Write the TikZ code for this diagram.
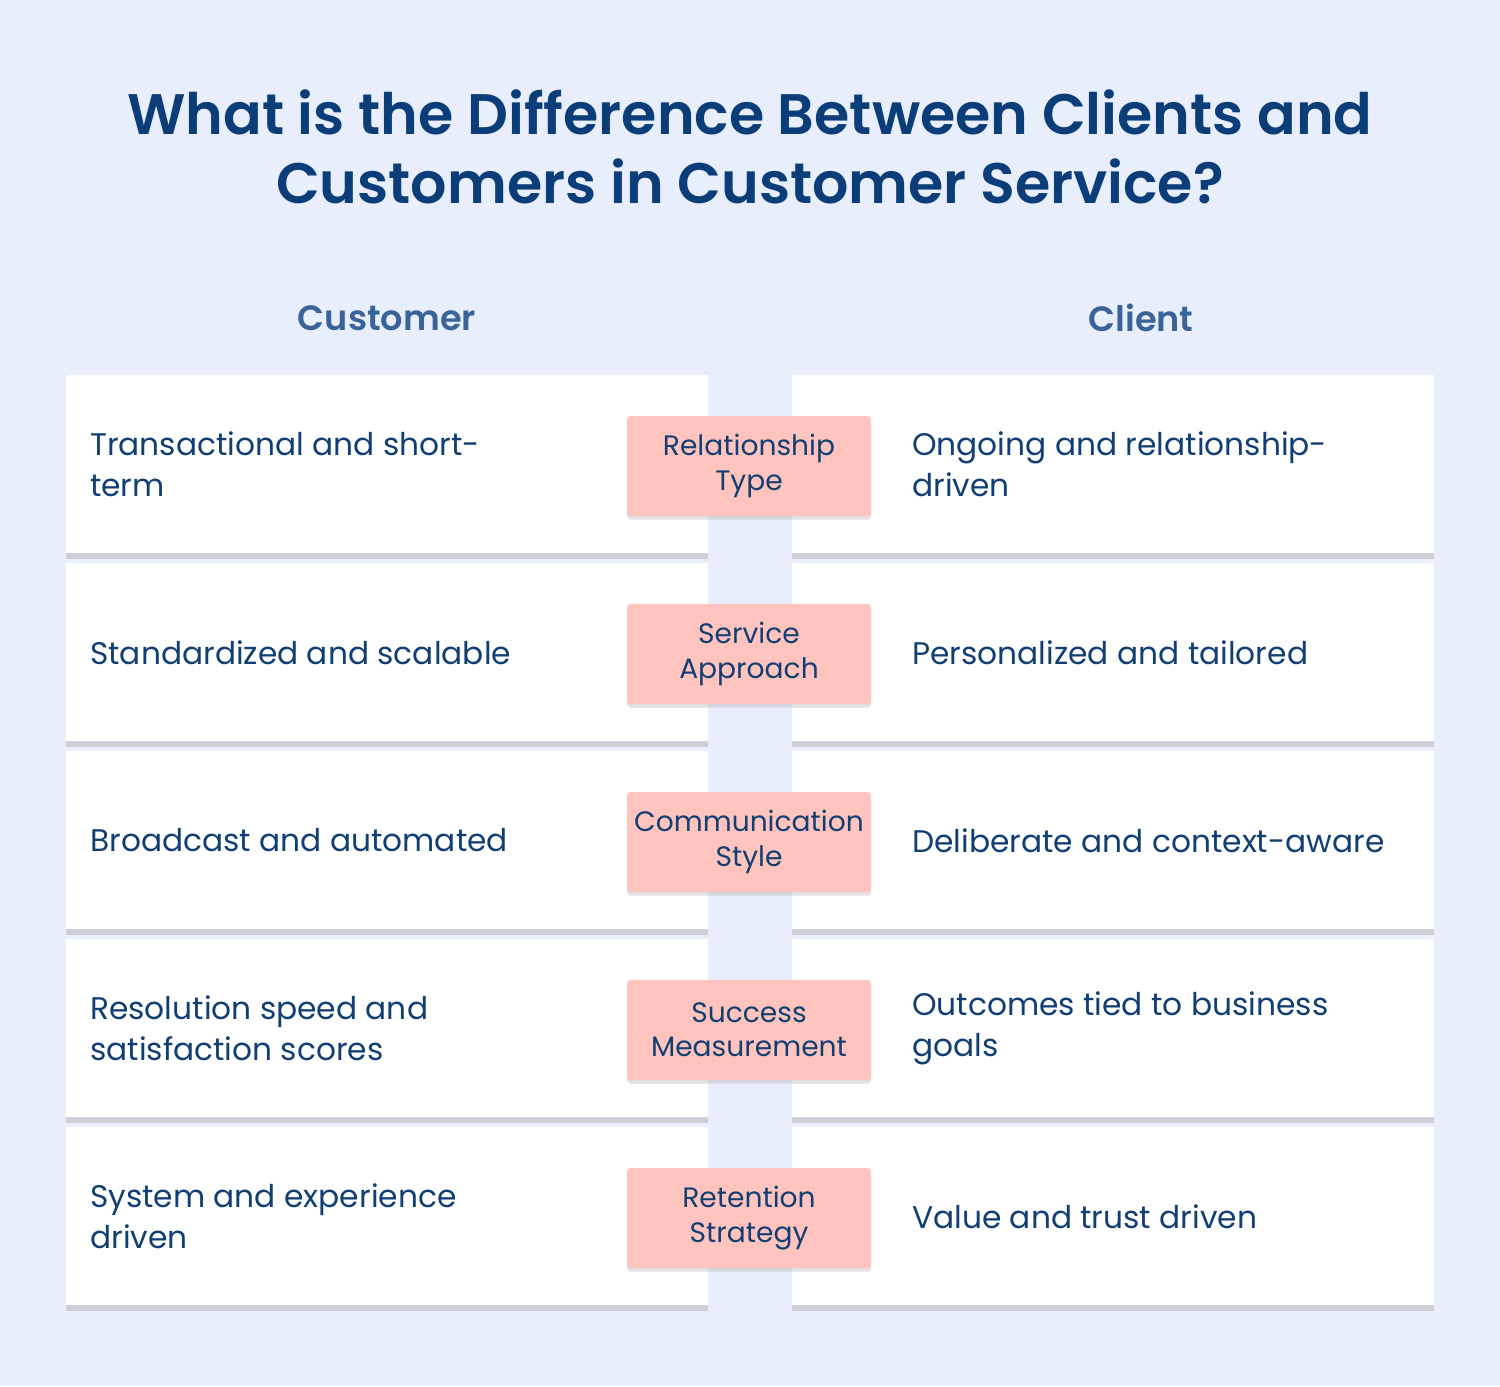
\documentclass[tikz,border=0pt]{standalone}
\usepackage{fontspec}
\setmainfont{Poppins}[BoldFont=Poppins SemiBold]
\usetikzlibrary{shadows}
\definecolor{bgblue}{HTML}{E8EEFB}
\definecolor{titleblue}{HTML}{0B3D78}
\definecolor{headblue}{HTML}{3A6399}
\definecolor{textblue}{HTML}{123F73}
\definecolor{tagpink}{HTML}{FEC4BD}
\tikzset{
  card/.style={fill=white, minimum width=642*0.02cm, minimum height=178*0.02cm,
    anchor=north west, inner sep=0pt,
    drop shadow={shadow xshift=0pt, shadow yshift=-3pt, fill=black!30, opacity=.5}},
  celltext/.style={anchor=west, align=left, text=textblue, font=\fontsize{17.8}{23}\selectfont},
  tag/.style={fill=tagpink, rounded corners=2pt, minimum width=244*0.02cm,
    minimum height=100*0.02cm, align=center, text=textblue, inner sep=0pt,
    font=\fontsize{16}{19.5}\selectfont,
    drop shadow={shadow xshift=0pt, shadow yshift=-2pt, fill=black!30, opacity=.4}},
  header/.style={text=headblue, font=\bfseries\fontsize{20}{24}\selectfont}
}
\begin{document}
\begin{tikzpicture}[x=0.02cm, y=-0.02cm]
  \fill[bgblue] (0,0) rectangle (1500,1386);
  \useasboundingbox (0,0) rectangle (1500,1386);
  % title
  \node[text=titleblue, align=center, font=\bfseries\fontsize{32.5}{39}\selectfont] (title) at (750,147)
    {What is the Difference Between Clients and\\Customers in Customer Service?};
  \node[header] (hcustomer) at (387,318) {Customer};
  \node[header] (hclient) at (1141,318) {Client};
  % rows
  \foreach \i/\lefttext/\tagtext/\righttext in {
    0/{Transactional and short-\\term}/{Relationship\\Type}/{Ongoing and relationship-\\driven},
    1/{Standardized and scalable}/{Service\\Approach}/{Personalized and tailored},
    2/{Broadcast and automated}/{Communication\\Style}/{Deliberate and context-aware},
    3/{Resolution speed and\\satisfaction scores}/{Success\\Measurement}/{Outcomes tied to business\\goals},
    4/{System and experience\\driven}/{Retention\\Strategy}/{Value and trust driven}} {
    \pgfmathsetmacro{\rowtop}{375+188*\i}
    \node[card] (left\i) at (66,\rowtop) {};
    \node[card] (right\i) at (792,\rowtop) {};
    \node[celltext] (ltext\i) at ([xshift=18*0.02cm]left\i.west) {\lefttext};
    \node[celltext] (rtext\i) at ([xshift=114*0.02cm]left\i.west -| right\i.west) {\righttext};
    \node[tag] (tag\i) at (749,\rowtop+91) {\tagtext};
  }
\end{tikzpicture}
\end{document}
